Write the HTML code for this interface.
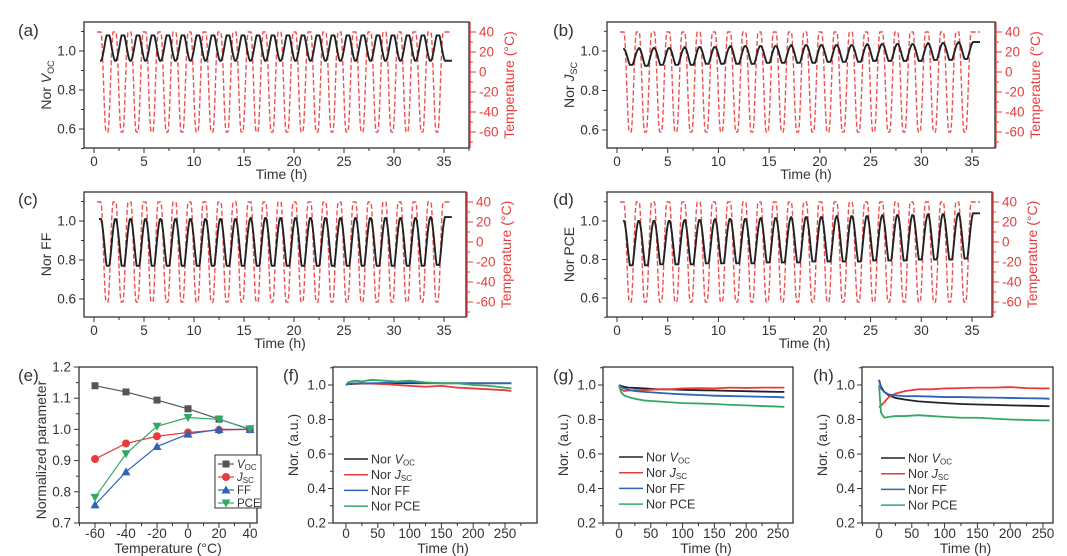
<!DOCTYPE html>
<html><head><meta charset="utf-8">
<style>
html,body{margin:0;padding:0;background:#fff;}
svg{display:block;font-family:"Liberation Sans",Arial,sans-serif;}
</style></head>
<body>
<svg id="fig" width="1067" height="556" viewBox="0 0 1067 556" xmlns="http://www.w3.org/2000/svg"></svg>
<script>
// ---------- data ----------
const cycleTroughs = [1.3,2.8,4.3,5.8,7.3,8.8,10.3,11.8,13.3,14.8,16.3,17.8,19.3,20.8,22.3,23.8,25.3,26.8,28.3,29.8,31.3,32.8,34.3];
const tempHigh = 40;
const tempLow = -60;
const vocWarm = [0.95,0.95,0.95,0.95,0.95,0.95,0.95,0.95,0.95,0.95,0.95,0.95,0.95,0.95,0.95,0.95,0.95,0.95,0.95,0.95,0.95,0.95,0.95];
const vocCold = [1.08,1.08,1.08,1.08,1.08,1.08,1.08,1.08,1.08,1.08,1.08,1.08,1.08,1.08,1.08,1.08,1.08,1.08,1.08,1.08,1.08,1.08,1.08];
const jscWarm = [1.01,1.015,1.015,1.015,1.02,1.02,1.02,1.025,1.025,1.025,1.025,1.03,1.03,1.03,1.03,1.03,1.035,1.035,1.035,1.035,1.04,1.04,1.045];
const jscCold = [0.93,0.925,0.93,0.93,0.93,0.935,0.935,0.935,0.935,0.94,0.94,0.94,0.94,0.945,0.945,0.945,0.95,0.95,0.95,0.95,0.955,0.955,0.96];
const ffWarm = [1.01,1.01,1.01,1.01,1.01,1.01,1.01,1.01,1.01,1.01,1.015,1.015,1.015,1.015,1.015,1.015,1.015,1.015,1.015,1.015,1.015,1.015,1.02];
const ffCold = [0.77,0.77,0.77,0.77,0.77,0.77,0.77,0.77,0.77,0.77,0.77,0.77,0.77,0.77,0.77,0.77,0.77,0.77,0.77,0.77,0.77,0.77,0.775];
const pceWarm = [1.0,1.0,1.0,1.0,1.005,1.005,1.01,1.01,1.01,1.015,1.015,1.02,1.02,1.02,1.025,1.025,1.025,1.03,1.03,1.03,1.035,1.035,1.04];
const pceCold = [0.77,0.77,0.775,0.775,0.775,0.78,0.78,0.78,0.78,0.785,0.785,0.785,0.79,0.79,0.79,0.79,0.795,0.795,0.795,0.8,0.8,0.8,0.805];

const eTemps = [-60,-40,-20,0,20,40];
const eVoc = [1.14,1.12,1.094,1.066,1.033,1.0];
const eJsc = [0.905,0.955,0.978,0.99,0.998,1.0];
const eFF = [0.758,0.864,0.945,0.985,1.0,1.0];
const ePCE = [0.782,0.922,1.01,1.038,1.032,1.002];

const agingTimes = [0,3,8,15,25,40,60,80,100,125,150,175,200,225,250,260];
const fVoc = [1.0,1.005,1.005,1.007,1.008,1.008,1.01,1.01,1.01,1.01,1.01,1.01,1.01,1.01,1.01,1.01];
const fJsc = [1.0,1.005,1.008,1.008,1.01,1.008,1.005,1.0,0.995,0.99,0.995,0.985,0.98,0.975,0.97,0.965];
const fFF = [1.0,1.005,1.008,1.01,1.01,1.01,1.012,1.015,1.015,1.012,1.01,1.01,1.01,1.01,1.01,1.01];
const fPCE = [1.0,1.015,1.02,1.025,1.02,1.03,1.025,1.02,1.025,1.015,1.01,1.01,1.0,0.995,0.985,0.98];
const gVoc = [1.0,0.995,0.99,0.985,0.983,0.98,0.975,0.975,0.972,0.97,0.968,0.966,0.964,0.962,0.96,0.96];
const gJsc = [1.0,0.975,0.965,0.968,0.97,0.97,0.975,0.975,0.98,0.982,0.98,0.985,0.983,0.985,0.985,0.985];
const gFF = [1.0,0.99,0.98,0.972,0.965,0.96,0.955,0.95,0.946,0.942,0.938,0.936,0.934,0.932,0.93,0.928];
const gPCE = [1.0,0.96,0.94,0.93,0.92,0.91,0.905,0.9,0.895,0.893,0.89,0.885,0.882,0.878,0.875,0.873];
const hVoc = [1.03,0.99,0.96,0.94,0.925,0.915,0.905,0.9,0.895,0.89,0.887,0.885,0.882,0.88,0.878,0.877];
const hJsc = [0.87,0.88,0.9,0.93,0.95,0.965,0.975,0.975,0.98,0.982,0.985,0.985,0.988,0.982,0.98,0.98];
const hFF = [1.03,0.98,0.96,0.945,0.94,0.935,0.935,0.933,0.93,0.93,0.928,0.927,0.925,0.923,0.922,0.92];
const hPCE = [1.0,0.84,0.81,0.815,0.82,0.82,0.825,0.82,0.815,0.81,0.81,0.805,0.8,0.797,0.795,0.795];

// ---------- helpers ----------
const svg = document.getElementById('fig');
const NS = 'http://www.w3.org/2000/svg';
const RED = '#e83c3c', BLK = '#222', BLUE = '#2d63b8', GRN = '#33a866', GRAY='#555';
function mk(tag, attrs, parent){
  const e = document.createElementNS(NS, tag);
  for (const k in attrs) e.setAttribute(k, attrs[k]);
  (parent||svg).appendChild(e);
  return e;
}
function txt(x,y,s,opts,parent){
  const t = mk('text', Object.assign({x:x,y:y,'font-size':13.5,fill:'#333','text-anchor':'middle'}, opts||{}), parent);
  t.innerHTML = s;
  return t;
}
function lin(d0,d1,r0,r1){ return v => r0 + (v-d0)*(r1-r0)/(d1-d0); }
function pathD(xs, ys, sx, sy){
  let d='';
  for(let i=0;i<xs.length;i++) d += (i?'L':'M') + sx(xs[i]).toFixed(2)+','+sy(ys[i]).toFixed(2);
  return d;
}
function box(g,x0,x1,y0,y1){
  const r = mk('rect',{x:x0,y:y0,width:x1-x0,height:y1-y0,fill:'none',stroke:'#333','stroke-width':1.3},g);
  
  
}
function panelLabel(x,y,s){
  const t = txt(x,y,s,{'font-size':17,'text-anchor':'start',fill:'#333'});
  
  
}

function tempAt(t){
  let best = 1e9, tr = 0;
  for (const c of cycleTroughs){ if (Math.abs(t-c)<best){best=Math.abs(t-c);tr=c;} }
  const a = Math.abs(t - tr);
  if (a < 0.08) return tempLow;
  if (a > 0.62) return tempHigh;
  const u = (a-0.08)/(0.54);
  return tempLow + (tempHigh-tempLow)*(0.5-0.5*Math.cos(Math.PI*u));
}
function cycValue(t, warm, cold, lag){
  let idx=0,best=1e9;
  for(let i=0;i<cycleTroughs.length;i++){ if(Math.abs(t-lag-cycleTroughs[i])<best){best=Math.abs(t-lag-cycleTroughs[i]);idx=i;} }
  // smoothed response: average temperature over a short window
  let s=0,n=0;
  for(let d=-0.25; d<=0.25; d+=0.05){ s+=tempAt(t-lag+d); n++; }
  const T = s/n;
  let f = (tempHigh - T)/(tempHigh-tempLow);
  f = Math.min(1, Math.max(0, f*1.25-0.05));
  return warm[idx] + (cold[idx]-warm[idx])*f;
}

function cyclePanel(cfg){
  const g = mk('g',{});
  
  
  const {x0,x1,y0,y1} = cfg;
  const sx = lin(0,35,cfg.xz,cfg.x35);
  const sy = lin(1.0,0.6,cfg.y10,cfg.y06);
  const sr = lin(40,-60,cfg.r40,cfg.rm60);
  box(g,x0,x1,y0,y1);
  for(let v=0; v<=37.5; v+=2.5){
    const X=sx(v); if(X>x1) break;
    mk('line',{x1:X,x2:X,y1:y1,y2:y1+(v%5===0?5:3),stroke:'#333','stroke-width':1},g);
    if(v%5===0){ const t=txt(X,y1+18,String(v),{},g);   }
  }
  const xt = txt((x0+x1)/2+5, y1+31, 'Time (h)', {'font-size':14}, g);
  
  
  for(let v=0.5; v<=1.11; v+=0.1){
    const Y=sy(v); if(Y<y0-1||Y>y1+1) continue;
    const major = Math.abs((v*10)%2)<0.01 || Math.abs((v*10)%2-2)<0.01;
    mk('line',{x1:x0,x2:x0-(major?5:3),y1:Y,y2:Y,stroke:'#333','stroke-width':1},g);
    if(major){ const t=txt(x0-8,Y+4.5,v.toFixed(1),{'text-anchor':'end'},g);   }
  }
  const yl = mk('text',{x:0,y:0,'font-size':14,fill:'#333','text-anchor':'middle',transform:`translate(${x0-33},${(y0+y1)/2}) rotate(-90)`},g);
  yl.innerHTML = cfg.ylab;
  
  
  mk('line',{x1:x1+1,x2:x1+1,y1:y0,y2:y1,stroke:RED,'stroke-width':1.3},g);
  for(let v=-70; v<=40; v+=10){
    const Y=sr(v); const major = v%20===0;
    mk('line',{x1:x1+1,x2:x1+(major?7:4),y1:Y,y2:Y,stroke:RED,'stroke-width':1},g);
    if(major){ const t=txt(x1+10,Y+4.5,String(v),{'text-anchor':'start',fill:RED},g);   }
  }
  const rl = mk('text',{x:0,y:0,'font-size':14,fill:RED,'text-anchor':'middle',transform:`translate(${x1+45},${(y0+y1)/2}) rotate(-90)`},g);
  rl.innerHTML = 'Temperature (°C)';
  
  
  const ts=[]; for(let t=0.3;t<=35.8;t+=0.03) ts.push(t);
  const temps = ts.map(tempAt);
  const tp = mk('path',{d:pathD(ts,temps,sx,sr),fill:'none',stroke:'#f05050','stroke-width':1.4,'stroke-dasharray':'5 2.5'},g);
  
  
  const ts2=[]; for(let t=cfg.tStart;t<=35.8;t+=0.03) ts2.push(t);
  const vals = ts2.map(t=>cycValue(t,cfg.warm,cfg.cold,0.1));
  const vp = mk('path',{d:pathD(ts2,vals,sx,sy),fill:'none',stroke:BLK,'stroke-width':1.9},g);
  
  
}

cyclePanel({name:'panel-a-voc',x0:84,x1:469,y0:22,y1:148,xz:94,x35:444,y10:51,y06:129,r40:32,rm60:132,ylab:'Nor <tspan font-style="italic">V</tspan><tspan font-size="9" dy="3">OC</tspan>',warm:vocWarm,cold:vocCold,tStart:0.6});
cyclePanel({name:'panel-b-jsc',x0:607,x1:995,y0:22,y1:148,xz:617,x35:972,y10:51,y06:130,r40:32,rm60:132,ylab:'Nor <tspan font-style="italic">J</tspan><tspan font-size="9" dy="3">SC</tspan>',warm:jscWarm,cold:jscCold,tStart:0.6});
cyclePanel({name:'panel-c-ff',x0:84,x1:466,y0:192,y1:317,xz:94,x35:444,y10:221,y06:299,r40:202,rm60:302,ylab:'Nor FF',warm:ffWarm,cold:ffCold,tStart:0.5});
cyclePanel({name:'panel-d-pce',x0:607,x1:992,y0:192,y1:317,xz:617,x35:972,y10:221,y06:298,r40:202,rm60:302,ylab:'Nor PCE',warm:pceWarm,cold:pceCold,tStart:0.6});

panelLabel(18,36,'(a)'); panelLabel(553,36,'(b)');
panelLabel(18,205,'(c)'); panelLabel(553,205,'(d)');
panelLabel(18,381,'(e)'); panelLabel(283,381,'(f)');
panelLabel(553,381,'(g)'); panelLabel(813,381,'(h)');

// ---------- panel e ----------
(function(){
  const g = mk('g',{});
  
  
  const x0=79,x1=257,y0=367,y1=523;
  const sx = lin(-60,40,95,250), sy = lin(1.2,0.7,367,523);
  box(g,x0,x1,y0,y1);
  for(let v=-70; v<=50; v+=10){
    const X=sx(v); if(X<x0||X>x1) continue;
    mk('line',{x1:X,x2:X,y1:y1,y2:y1+(v%20===0?5:3),stroke:'#333'},g);
    if(v%20===0){ const t=txt(X,y1+15,String(v),{},g);   }
  }
  for(let i=0;i<=10;i++){
    const v=0.7+i*0.05, Y=sy(v);
    mk('line',{x1:x0,x2:x0-(i%2===0?5:3),y1:Y,y2:Y,stroke:'#333'},g);
    if(i%2===0){ const t=txt(x0-8,Y+4.5,v.toFixed(1),{'text-anchor':'end'},g);   }
  }
  const xt = txt(168,553,'Temperature (°C)',{'font-size':14},g);
   
  const yl = mk('text',{x:0,y:0,'font-size':14,fill:'#333','text-anchor':'middle',transform:`translate(46,450) rotate(-90)`},g);
  yl.innerHTML='Normalized parameter';
   
  const series=[[eVoc,GRAY,'sq','voc'],[eJsc,RED,'ci','jsc'],[eFF,BLUE,'up','ff'],[ePCE,GRN,'dn','pce']];
  function marker(x,y,type,c,gg){
    let m;
    if(type==='sq') m=mk('rect',{x:x-3.5,y:y-3.5,width:7,height:7,fill:c},gg);
    else if(type==='ci') m=mk('circle',{cx:x,cy:y,r:4,fill:c},gg);
    else if(type==='up') m=mk('path',{d:`M${x},${y-4.5}L${x+4.5},${y+3.5}L${x-4.5},${y+3.5}Z`,fill:c},gg);
    else m=mk('path',{d:`M${x},${y+4.5}L${x+4.5},${y-3.5}L${x-4.5},${y-3.5}Z`,fill:c},gg);
    
    
  }
  for(const [arr,c,mt,nm] of series){
    const p=mk('path',{d:pathD(eTemps,arr,sx,sy),fill:'none',stroke:c,'stroke-width':1.2},g);
     
    eTemps.forEach((t,i)=>marker(sx(t),sy(arr[i]),mt,c,g));
  }
  const lg = mk('g',{},g);
   
  mk('rect',{x:215,y:455,width:46,height:53,fill:'#fff',stroke:'#333','stroke-width':1},lg);
  const labs=['<tspan font-style="italic">V</tspan><tspan font-size="8" dy="2">OC</tspan>','<tspan font-style="italic">J</tspan><tspan font-size="8" dy="2">SC</tspan>','FF','PCE'];
  series.forEach((s,i)=>{
    const Y=464+i*13;
    const l=mk('line',{x1:218,x2:234,y1:Y,y2:Y,stroke:s[1],'stroke-width':1.2},lg);
     
    marker(226,Y,s[2],s[1],lg);
    const t=txt(237,Y+4,labs[i],{'text-anchor':'start','font-size':11.5},lg);
     
  });
})();

// ---------- panels f,g,h ----------
function agingPanel(cfg){
  const g = mk('g',{});
  
  
  const {x0,x1,y0,y1}=cfg;
  const sx = lin(0,250,cfg.xz,cfg.x250), sy = lin(1.0,0.2,385,523);
  box(g,x0,x1,y0,y1);
  for(let v=-25; v<=275; v+=25){
    const X=sx(v); if(X<x0||X>x1) continue;
    mk('line',{x1:X,x2:X,y1:y1,y2:y1+(v%50===0?5:3),stroke:'#333'},g);
    if(v%50===0){ const t=txt(X,y1+15,String(v),{},g);   }
  }
  for(let i=0;i<=9;i++){
    const v=0.2+i*0.1, Y=sy(v); if(Y<y0) continue;
    mk('line',{x1:x0,x2:x0-(i%2===0?5:3),y1:Y,y2:Y,stroke:'#333'},g);
    if(i%2===0){ const t=txt(x0-7,Y+4.5,v.toFixed(1),{'text-anchor':'end'},g);   }
  }
  const xt = txt((x0+x1)/2+8,553,'Time (h)',{'font-size':14},g);
   
  const yl = mk('text',{x:0,y:0,'font-size':14,fill:'#333','text-anchor':'middle',transform:`translate(${x0-35},445) rotate(-90)`},g);
  yl.innerHTML='Nor. (a.u.)';
   
  const series=[[cfg.voc,BLK,'voc'],[cfg.jsc,RED,'jsc'],[cfg.ff,BLUE,'ff'],[cfg.pce,GRN,'pce']];
  for(const [arr,c,nm] of series){
    const p=mk('path',{d:pathD(agingTimes,arr,sx,sy),fill:'none',stroke:c,'stroke-width':1.8,'stroke-linejoin':'round'},g);
     
  }
  const labs=['Nor <tspan font-style="italic">V</tspan><tspan font-size="8" dy="2">OC</tspan>','Nor <tspan font-style="italic">J</tspan><tspan font-size="8" dy="2">SC</tspan>','Nor FF','Nor PCE'];
  const lg = mk('g',{},g);
   
  series.forEach((s,i)=>{
    const Y=cfg.ly+i*15.7;
    const l=mk('line',{x1:cfg.lx,x2:cfg.lx+24,y1:Y,y2:Y,stroke:s[1],'stroke-width':1.5},lg);
     
    const t=txt(cfg.lx+27,Y+4.5,labs[i],{'text-anchor':'start','font-size':12.5},lg);
     
  });
}
agingPanel({name:'panel-f-aging',x0:333,x1:537,y0:367,y1:523,xz:346,x250:505,voc:fVoc,jsc:fJsc,ff:fFF,pce:fPCE,lx:344,ly:459});
agingPanel({name:'panel-g-aging',x0:603,x1:793,y0:367,y1:523,xz:619,x250:778,voc:gVoc,jsc:gJsc,ff:gFF,pce:gPCE,lx:619,ly:457});
agingPanel({name:'panel-h-aging',x0:862,x1:1053,y0:367,y1:523,xz:879,x250:1043,voc:hVoc,jsc:hJsc,ff:hFF,pce:hPCE,lx:881,ly:458});
</script>
</body></html>
